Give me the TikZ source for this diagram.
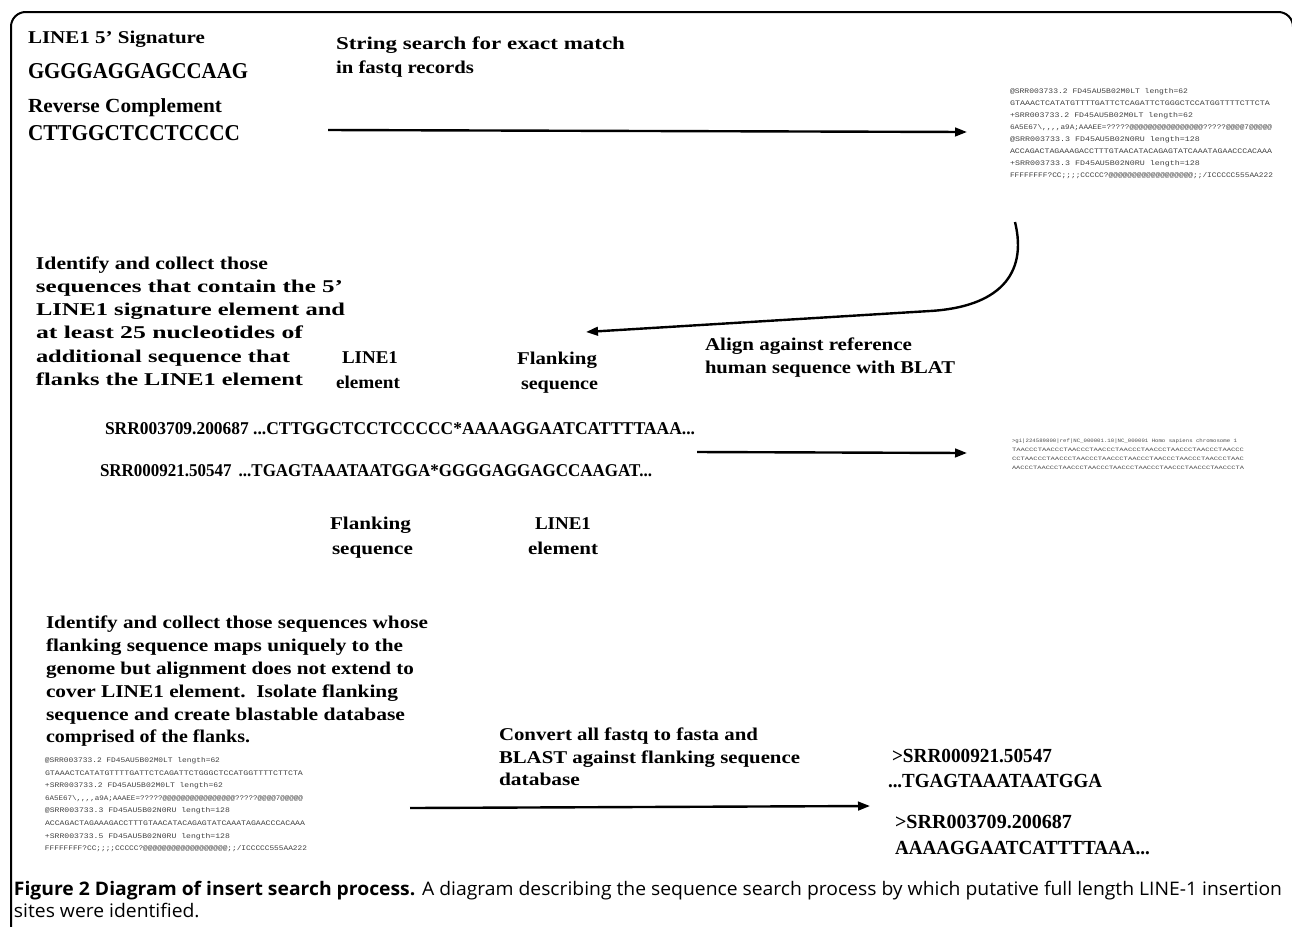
\documentclass[tikz,border=0pt]{standalone}
\usepackage{fontspec}
\usepackage{graphicx}
\setmainfont{Liberation Serif}
\newfontfamily\capfont{Open Sans}
\newfontfamily\seqmono{Liberation Mono}
\usetikzlibrary{arrows.meta}
\newlength\pxl \setlength\pxl{0.75pt}
\newcommand\fw[2]{\resizebox{#1\pxl}{\height}{#2}}
\tikzset{
  txt/.style={anchor=base west, inner sep=0pt, outer sep=0pt, font=\bfseries\fontsize{13.5}{16}\selectfont},
  bigtxt/.style={txt, font=\bfseries\fontsize{17}{20}\selectfont},
  midtxt/.style={txt, font=\bfseries\fontsize{15}{18}\selectfont},
  fq/.style={anchor=base west, inner sep=0pt, outer sep=0pt, text=black!75, font=\seqmono\fontsize{5.2}{6}\selectfont},
  bl/.style={anchor=base west, inner sep=0pt, outer sep=0pt, text=black!70, font=\seqmono\fontsize{3.8}{4.5}\selectfont},
  captxt/.style={anchor=base west, inner sep=0pt, outer sep=0pt, font=\capfont\fontsize{14}{17}\selectfont},
  arr/.style={line width=1.8pt, -{Triangle[length=9pt,width=6.5pt]}},
  framepath/.style={line width=1.5pt, rounded corners=11pt}
}
\begin{document}
\begin{tikzpicture}[x=0.75pt, y=-0.75pt]
\useasboundingbox (0,0) rectangle (1292,926);
% frame
\coordinate (f1) at (11,940);
\coordinate (f2) at (11,12);
\coordinate (f3) at (1293,12);
\coordinate (f4) at (1293,940);
\draw[framepath] (f1) -- (f2) -- (f3) -- (f4);

% top-left
\node[txt] (sig) at (28,43) {\fw{177}{LINE1 5’ Signature}};
\node[bigtxt] (gg) at (28,78) {\fw{220}{GGGGAGGAGCCAAG}};
\node[midtxt] (rc) at (28,112) {\fw{194}{Reverse Complement}};
\node[bigtxt] (ct) at (28,140) {\fw{212}{CTTGGCTCCTCCCC}};

\node[txt] (ss1) at (336,49) {\fw{289}{String search for exact match}};
\node[txt] (ss2) at (336,73) {\fw{138}{in fastq records}};

\coordinate (a1s) at (328,130);
\coordinate (a1e) at (967,132);
\draw[arr] (a1s) -- (a1e);

% top-right fastq
\node[fq] (q1) at (1010,93) {\fw{178}{@SRR003733.2 FD45AU5B02M0LT length=62}};
\node[fq] (q2) at (1010,105) {\fw{260}{GTAAACTCATATGTTTTGATTCTCAGATTCTGGGCTCCATGGTTTTCTTCTA}};
\node[fq] (q3) at (1010,117) {\fw{183}{+SRR003733.2 FD45AU5B02M0LT length=62}};
\node[fq] (q4) at (1010,129) {\fw{262}{6A5E67\textbackslash,,,,a9A;AAAEE=?????@@@@@@@@@@@@@@@@?????@@@@7@@@@@}};
\node[fq] (q5) at (1010,141) {\fw{190}{@SRR003733.3 FD45AU5B02N0RU length=128}};
\node[fq] (q6) at (1010,153) {\fw{262}{ACCAGACTAGAAAGACCTTTGTAACATACAGAGTATCAAATAGAACCCACAAA}};
\node[fq] (q7) at (1010,165) {\fw{190}{+SRR003733.3 FD45AU5B02N0RU length=128}};
\node[fq] (q8) at (1010,177) {\fw{263}{FFFFFFFF?CC;;;;CCCCC?@@@@@@@@@@@@@@@@@@;;/ICCCCC555AA222}};

% curved arrow
\coordinate (c1) at (1015,222);
\coordinate (c2) at (930,311);
\coordinate (c3) at (586,332);
\draw[arr] (c1) .. controls (1028,275) and (998,307) .. (c2) -- (c3);

% left paragraph
\node[txt] (p1) at (36,269) {\fw{232}{Identify and collect those}};
\node[txt] (p2) at (36,292) {\fw{307}{sequences that contain the 5’}};
\node[txt] (p3) at (36,315) {\fw{309}{LINE1 signature element and}};
\node[txt] (p4) at (36,338) {\fw{267}{at least 25 nucleotides of}};
\node[txt] (p5) at (36,362) {\fw{254}{additional sequence that}};
\node[txt] (p6) at (36,385) {\fw{267}{flanks the LINE1 element}};

\node[txt] (l1a) at (342,363) {\fw{56}{LINE1}};
\node[txt] (l1b) at (336,388) {\fw{64}{element}};
\node[txt] (fl1a) at (517,364) {\fw{80}{Flanking}};
\node[txt] (fl1b) at (521,389) {\fw{77}{sequence}};

\node[txt] (al1) at (705,350) {\fw{207}{Align against reference}};
\node[txt] (al2) at (705,373) {\fw{250}{human sequence with BLAT}};

\node[txt] (s1) at (105,434) {\fw{590}{SRR003709.200687 ...CTTGGCTCCTCCCCC*AAAAGGAATCATTTTAAA...}};
\node[txt] (s2) at (100,476) {\fw{552}{SRR000921.50547 \,...TGAGTAAATAATGGA*GGGGAGGAGCCAAGAT...}};

\coordinate (a2s) at (697,452);
\coordinate (a2e) at (967,453);
\draw[arr] (a2s) -- (a2e);

% BLAT output
\node[bl] (b1) at (1012,442) {\fw{225}{>gi|224589800|ref|NC\_000001.10|NC\_000001 Homo sapiens chromosome 1}};
\node[bl] (b2) at (1012,451) {\fw{232}{TAACCCTAACCCTAACCCTAACCCTAACCCTAACCCTAACCCTAACCCTAACCC}};
\node[bl] (b3) at (1012,460) {\fw{232}{CCTAACCCTAACCCTAACCCTAACCCTAACCCTAACCCTAACCCTAACCCTAAC}};
\node[bl] (b4) at (1012,469) {\fw{232}{AACCCTAACCCTAACCCTAACCCTAACCCTAACCCTAACCCTAACCCTAACCCTA}};

\node[txt] (fl2a) at (330,529) {\fw{81}{Flanking}};
\node[txt] (fl2b) at (332,554) {\fw{81}{sequence}};
\node[txt] (l2a) at (535,529) {\fw{56}{LINE1}};
\node[txt] (l2b) at (528,554) {\fw{70}{element}};

% bottom paragraph
\node[txt] (r1) at (46,628) {\fw{382}{Identify and collect those sequences whose}};
\node[txt] (r2) at (46,651) {\fw{357}{flanking sequence maps uniquely to the}};
\node[txt] (r3) at (46,674) {\fw{368}{genome but alignment does not extend to}};
\node[txt] (r4) at (46,697) {\fw{352}{cover LINE1 element.\ \ Isolate flanking}};
\node[txt] (r5) at (46,720) {\fw{359}{sequence and create blastable database}};
\node[txt] (r6) at (46,742) {\fw{204}{comprised of the flanks.}};

% bottom-left fastq
\node[fq] (d1) at (45,762) {\fw{175}{@SRR003733.2 FD45AU5B02M0LT length=62}};
\node[fq] (d2) at (45,775) {\fw{258}{GTAAACTCATATGTTTTGATTCTCAGATTCTGGGCTCCATGGTTTTCTTCTA}};
\node[fq] (d3) at (45,787) {\fw{178}{+SRR003733.2 FD45AU5B02M0LT length=62}};
\node[fq] (d4) at (45,800) {\fw{258}{6A5E67\textbackslash,,,,a9A;AAAEE=?????@@@@@@@@@@@@@@@@?????@@@@7@@@@@}};
\node[fq] (d5) at (45,812) {\fw{185}{@SRR003733.3 FD45AU5B02N0RU length=128}};
\node[fq] (d6) at (45,825) {\fw{260}{ACCAGACTAGAAAGACCTTTGTAACATACAGAGTATCAAATAGAACCCACAAA}};
\node[fq] (d7) at (45,838) {\fw{185}{+SRR003733.5 FD45AU5B02N0RU length=128}};
\node[fq] (d8) at (45,850) {\fw{262}{FFFFFFFF?CC;;;;CCCCC?@@@@@@@@@@@@@@@@@@;;/ICCCCC555AA222}};

\node[txt] (cv1) at (499,740) {\fw{259}{Convert all fastq to fasta and}};
\node[txt] (cv2) at (499,763) {\fw{301}{BLAST against flanking sequence}};
\node[txt] (cv3) at (499,785) {\fw{81}{database}};

\coordinate (a3s) at (410,808);
\coordinate (a3e) at (870,806);
\draw[arr] (a3s) -- (a3e);

\node[midtxt] (o1) at (892,762) {\fw{160}{>SRR000921.50547}};
\node[midtxt] (o2) at (888,787) {\fw{214}{...TGAGTAAATAATGGA}};
\node[midtxt] (o3) at (895,828) {\fw{177}{>SRR003709.200687}};
\node[midtxt] (o4) at (895,854) {\fw{255}{AAAAGGAATCATTTTAAA...}};

% caption
\node[captxt] (cp) at (14,895) {\fw{1268}{\begin{tabular}[t]{@{}l@{}}\textbf{Figure 2 Diagram of insert search process.} A diagram describing the sequence search process by which putative full length LINE-1 insertion\\ sites were identified.\end{tabular}}};
\end{tikzpicture}
\end{document}
